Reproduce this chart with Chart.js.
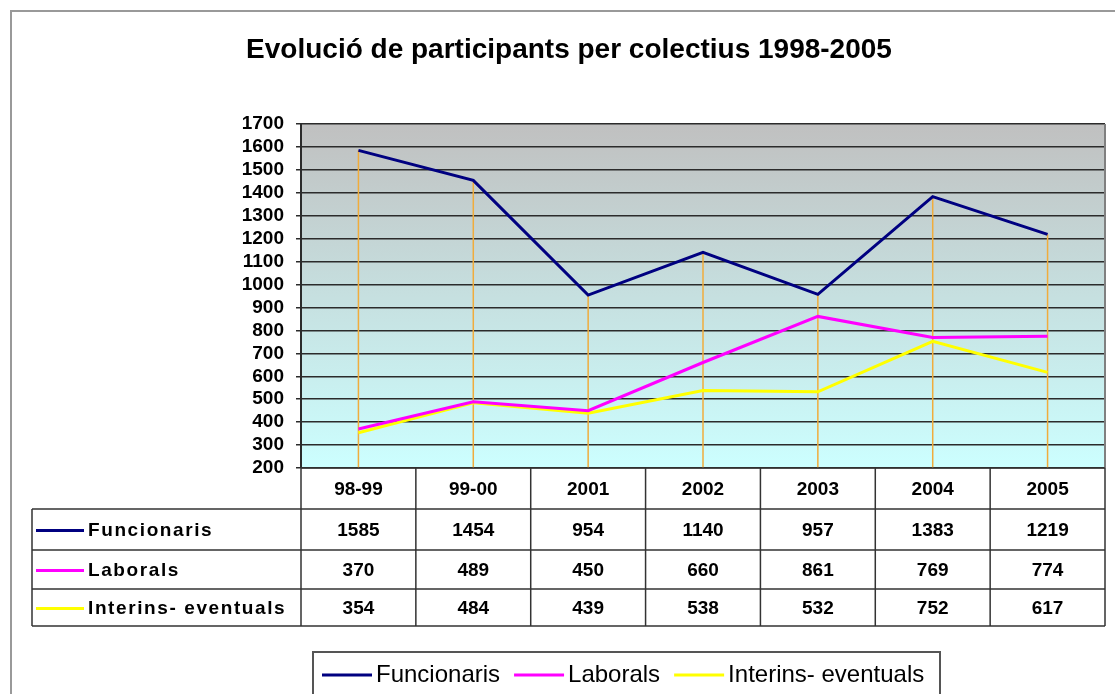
<!DOCTYPE html>
<html>
<head>
<meta charset="utf-8">
<script src="https://cdn.jsdelivr.net/npm/chart.js@4.4.1/dist/chart.umd.min.js"></script>
<style>
  html, body { margin: 0; padding: 0; background: #fff; }
  #grafic { display: block; }
</style>
</head>
<body>
<canvas id="grafic" width="1115" height="694"></canvas>
<script>
// Dades del gràfic
const categories = ["98-99", "99-00", "2001", "2002", "2003", "2004", "2005"];
const funcionaris = [1585, 1454, 954, 1140, 957, 1383, 1219];
const laborals = [370, 489, 450, 660, 861, 769, 774];
const interins = [354, 484, 439, 538, 532, 752, 617];
const titol = "Evolució de participants per colectius 1998-2005";

const FONT = "Arial, 'Liberation Sans', sans-serif";

// Fons degradat, línies de projecció, taula de dades, llegenda i títol
const excelPlugin = {
    id: "excelPlugin",
    beforeDraw(chart) {
        const ctx = chart.ctx;
        const a = chart.chartArea;
        ctx.save();
        ctx.fillStyle = "#ffffff";
        ctx.fillRect(0, 0, chart.width, chart.height);
        const grad = ctx.createLinearGradient(0, a.top, 0, a.bottom);
        grad.addColorStop(0, "#c0c0c0");
        grad.addColorStop(1, "#ccffff");
        ctx.fillStyle = grad;
        ctx.fillRect(a.left, a.top, a.right - a.left, a.bottom - a.top);
        ctx.restore();
    },
    beforeDatasetsDraw(chart) {
        // línies de projecció (drop lines) des del valor més alt fins a l'eix
        const ctx = chart.ctx;
        const x = chart.scales.x, y = chart.scales.y;
        ctx.save();
        ctx.strokeStyle = "#f0ac3c";
        ctx.lineWidth = 1.5;
        categories.forEach((c, i) => {
            const maxim = Math.max(funcionaris[i], laborals[i], interins[i]);
            const px = x.getPixelForValue(i);
            ctx.beginPath();
            ctx.moveTo(px, y.getPixelForValue(maxim));
            ctx.lineTo(px, chart.chartArea.bottom);
            ctx.stroke();
        });
        ctx.restore();
    },
    afterDraw(chart) {
        const ctx = chart.ctx;
        const a = chart.chartArea;
        const x = chart.scales.x;
        const n = categories.length;
        const colW = (a.right - a.left) / n;
        ctx.save();

        // vora dreta de l'àrea de traçat
        ctx.strokeStyle = "#808080";
        ctx.lineWidth = 2;
        ctx.beginPath();
        ctx.moveTo(a.right, a.top);
        ctx.lineTo(a.right, a.bottom);
        ctx.stroke();

        // títol
        ctx.fillStyle = "#000";
        ctx.font = "bold 28px " + FONT;
        ctx.textAlign = "center";
        ctx.textBaseline = "middle";
        ctx.fillText(titol, 569, 50);

        // taula de dades
        const tLeft = 32;
        const rows = [a.bottom, 509, 550, 589, 626];
        ctx.strokeStyle = "#333";
        ctx.lineWidth = 1.5;
        ctx.beginPath();
        // línies horitzontals
        ctx.moveTo(a.left, rows[0]); ctx.lineTo(a.right, rows[0]);
        for (let r = 1; r < rows.length; r++) {
            ctx.moveTo(tLeft, rows[r]); ctx.lineTo(a.right, rows[r]);
        }
        // línies verticals
        ctx.moveTo(tLeft, rows[1]); ctx.lineTo(tLeft, rows[4]);
        for (let i = 0; i <= n; i++) {
            const px = a.left + i * colW;
            ctx.moveTo(px, rows[0]); ctx.lineTo(px, rows[4]);
        }
        ctx.stroke();

        // capçalera
        ctx.fillStyle = "#000";
        ctx.font = "bold 19px " + FONT;
        ctx.textAlign = "center";
        categories.forEach((c, i) => {
            ctx.fillText(c, x.getPixelForValue(i), (rows[0] + rows[1]) / 2 + 1);
        });

        // files de sèries
        chart.data.datasets.forEach((ds, r) => {
            const cy = (rows[r + 1] + rows[r + 2]) / 2 + 1;
            ctx.strokeStyle = ds.borderColor;
            ctx.lineWidth = 3;
            ctx.beginPath();
            ctx.moveTo(36, cy);
            ctx.lineTo(84, cy);
            ctx.stroke();
            ctx.fillStyle = "#000";
            ctx.textAlign = "left";
            ctx.font = "bold 19px " + FONT;
            ctx.letterSpacing = "1.6px";
            ctx.fillText(ds.label, 88, cy);
            ctx.letterSpacing = "0px";
            ctx.textAlign = "center";
            ds.data.forEach((v, i) => {
                ctx.fillText(String(v), x.getPixelForValue(i), cy);
            });
        });

        // llegenda
        ctx.strokeStyle = "#555";
        ctx.lineWidth = 2;
        ctx.strokeRect(313, 652, 627, 60);
        ctx.font = "24px " + FONT;
        ctx.textAlign = "left";
        let lx = 322;
        const ly = 675;
        chart.data.datasets.forEach(ds => {
            ctx.strokeStyle = ds.borderColor;
            ctx.lineWidth = 3;
            ctx.beginPath();
            ctx.moveTo(lx, ly);
            ctx.lineTo(lx + 50, ly);
            ctx.stroke();
            ctx.fillStyle = "#000";
            ctx.fillText(ds.label, lx + 54, ly);
            lx += 54 + ctx.measureText(ds.label).width + 14;
        });

        // vora exterior
        ctx.strokeStyle = "#999";
        ctx.lineWidth = 2;
        ctx.strokeRect(11, 11, chart.width + 20, chart.height + 20);
        ctx.restore();
    }
};

const ctx = document.getElementById("grafic").getContext("2d");
new Chart(ctx, {
    type: "line",
    data: {
        labels: categories,
        datasets: [
            { label: "Funcionaris", data: funcionaris, borderColor: "#000080", borderWidth: 3, pointRadius: 0, tension: 0 },
            { label: "Laborals", data: laborals, borderColor: "#ff00ff", borderWidth: 3, pointRadius: 0, tension: 0 },
            { label: "Interins- eventuals", data: interins, borderColor: "#ffff00", borderWidth: 3, pointRadius: 0, tension: 0 },
        ],
    },
    options: {
        responsive: false,
        animation: false,
        layout: { padding: { top: 124, right: 10, left: 0, bottom: 0 } },
        plugins: {
            legend: { display: false },
            title: { display: false },
            tooltip: { enabled: false },
        },
        scales: {
            x: {
                offset: true,
                grid: { display: false },
                border: { display: false },
                ticks: { display: false },
                afterFit: scale => { scale.height = 694 - 468; },
            },
            y: {
                min: 200,
                max: 1700,
                ticks: {
                    stepSize: 100,
                    autoSkip: false,
                    color: "#000",
                    padding: 12,
                    font: { family: FONT, size: 19, weight: "bold" },
                    callback: v => String(v),
                },
                grid: { color: "#2b2b2b", lineWidth: 1.5, tickLength: 5 },
                border: { color: "#2b2b2b", width: 2 },
                afterFit: scale => { scale.width = 301; },
            },
        },
    },
    plugins: [excelPlugin],
});
</script>
</body>
</html>
